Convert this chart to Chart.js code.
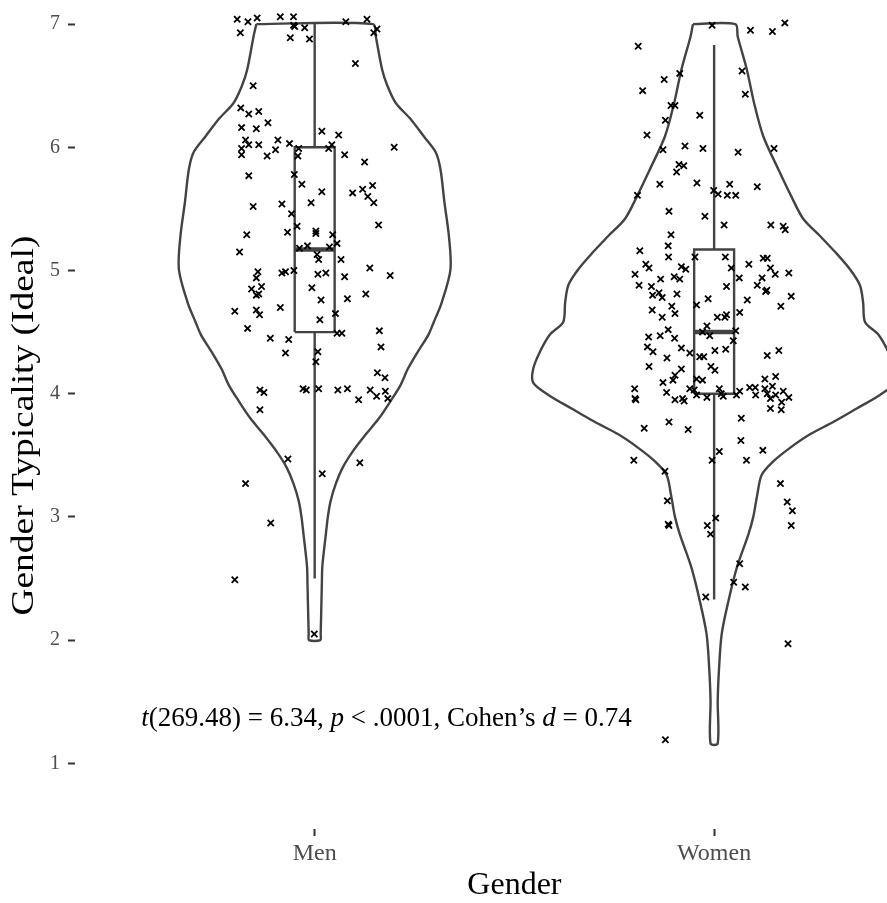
<!DOCTYPE html>
<html>
<head>
<meta charset="utf-8">
<title>Gender Typicality (Ideal)</title>
<script src="https://cdn.jsdelivr.net/npm/chart.js@4.4.1/dist/chart.umd.min.js"></script>
<style>
  html, body { margin: 0; padding: 0; background: #fff; overflow: hidden; }
  #wrap { width: 887px; height: 903px; overflow: hidden; }
</style>
</head>
<body>
<div id="wrap"><canvas id="violin-chart" width="960" height="903"></canvas></div>
<script>
const categories = ['Men', 'Women'];
const yTicks = [1, 2, 3, 4, 5, 6, 7];
const yTitle = 'Gender Typicality (Ideal)';
const xTitle = 'Gender';

// violin outline: score levels (top -> bottom) and half width in category units
const menLevels = [7.00, 6.90, 6.63, 6.50, 6.36, 6.23, 6.09, 5.96, 5.82, 5.55, 5.28, 5.01, 4.74, 4.58, 4.48, 4.34, 4.20,
  4.07, 3.94, 3.80, 3.67, 3.53, 3.40, 3.27, 3.13, 3.00, 2.86, 2.72, 2.59, 2.46, 2.32, 2.05, 2.00];
const menHalfWidth = [0.146, 0.153, 0.169, 0.182, 0.203, 0.240, 0.273, 0.303, 0.315, 0.325, 0.336, 0.340, 0.318, 0.298, 0.285, 0.258, 0.233,
  0.215, 0.190, 0.161, 0.128, 0.095, 0.070, 0.053, 0.040, 0.033, 0.028, 0.023, 0.019, 0.018, 0.017, 0.015, 0.014];
const womenLevels = [7.00, 6.90, 6.63, 6.36, 6.09, 5.82, 5.61, 5.42, 5.28, 5.15, 5.01, 4.88, 4.74, 4.58, 4.48, 4.34, 4.20,
  4.09, 3.99, 3.88, 3.77, 3.67, 3.56, 3.45, 3.34, 3.18, 3.00, 2.86, 2.59, 2.32, 2.05, 1.78, 1.51, 1.16];
const womenHalfWidth = [0.053, 0.059, 0.082, 0.100, 0.123, 0.161, 0.192, 0.223, 0.265, 0.303, 0.340, 0.365, 0.373, 0.378, 0.411, 0.436, 0.453,
  0.453, 0.415, 0.357, 0.298, 0.240, 0.190, 0.148, 0.119, 0.108, 0.098, 0.086, 0.057, 0.036, 0.019, 0.0125, 0.009, 0.009];

// box plot: lower whisker, Q1, median, Q3, upper whisker
const menBox = [2.5, 4.5, 5.17, 6.0, 7.0];
const womenBox = [2.33, 4.0, 4.5, 5.17, 6.83];

// individual responses (horizontal jitter in category units, score)
const menJitter = [-0.194, -0.167, -0.144, -0.086, -0.053, -0.053, -0.050, -0.025, -0.186, -0.061,
  -0.013, 0.078, 0.131, 0.156, 0.148, 0.102, -0.154, -0.185, -0.165, -0.140,
  -0.117, -0.183, -0.146, 0.018, 0.060, -0.173, -0.165, -0.140, -0.092, -0.063,
  -0.183, -0.183, -0.098, -0.119, -0.040, 0.043, 0.035, -0.042, 0.075, 0.125,
  0.199, -0.165, -0.051, -0.032, 0.018, 0.095, 0.120, 0.145, 0.133, 0.148,
  -0.154, -0.082, -0.009, -0.058, -0.044, -0.068, 0.003, 0.003, 0.045, -0.170,
  0.160, -0.188, -0.038, -0.018, 0.037, 0.056, 0.006, 0.010, 0.066, -0.142,
  -0.146, -0.082, -0.073, -0.052, 0.008, 0.028, 0.075, 0.138, 0.189, -0.158,
  -0.133, -0.146, -0.140, -0.007, 0.016, 0.082, 0.128, -0.200, -0.146, -0.138,
  -0.086, 0.052, 0.013, -0.168, -0.111, -0.065, 0.056, 0.068, 0.162, -0.073,
  0.008, 0.003, 0.166, 0.157, 0.176, -0.137, -0.127, -0.029, -0.021, 0.010,
  0.058, 0.082, 0.139, 0.155, 0.177, 0.110, 0.183, -0.137, -0.067, -0.173,
  0.019, 0.113, -0.110, -0.200, -0.001];
const menScores = [7.04, 7.02, 7.05, 7.06, 7.06, 6.99, 6.98, 6.97, 6.93, 6.89,
  6.88, 7.02, 7.04, 6.96, 6.93, 6.68, 6.50, 6.32, 6.27, 6.29,
  6.20, 6.16, 6.15, 6.13, 6.10, 6.06, 6.02, 6.02, 6.06, 6.03,
  5.99, 5.94, 5.98, 5.93, 5.99, 6.02, 5.99, 5.93, 5.94, 5.88,
  6.00, 5.77, 5.78, 5.70, 5.64, 5.63, 5.66, 5.69, 5.60, 5.55,
  5.52, 5.54, 5.55, 5.46, 5.36, 5.31, 5.32, 5.30, 5.29, 5.29,
  5.37, 5.15, 5.18, 5.20, 5.19, 5.22, 5.13, 5.09, 5.09, 4.99,
  4.94, 4.98, 4.99, 5.00, 4.97, 4.98, 4.95, 5.02, 4.96, 4.85,
  4.87, 4.80, 4.81, 4.86, 4.76, 4.77, 4.81, 4.67, 4.68, 4.64,
  4.70, 4.65, 4.60, 4.53, 4.45, 4.44, 4.49, 4.49, 4.51, 4.33,
  4.34, 4.26, 4.38, 4.17, 4.13, 4.03, 4.01, 4.04, 4.03, 4.04,
  4.03, 4.04, 4.03, 3.98, 4.02, 3.95, 3.96, 3.87, 3.47, 3.27,
  3.35, 3.44, 2.95, 2.49, 2.05];
const womenJitter = [-0.005, 0.091, 0.146, 0.177, -0.190, -0.086, -0.125, 0.070, -0.179, 0.078,
  -0.108, -0.098, -0.036, -0.122, -0.168, -0.128, -0.073, -0.028, 0.060, 0.150,
  -0.088, -0.076, -0.094, -0.136, -0.043, -0.001, 0.010, 0.033, 0.054, 0.039,
  0.108, -0.192, -0.113, -0.023, 0.025, 0.142, 0.173, 0.178, -0.108, -0.115,
  -0.186, -0.114, -0.048, 0.028, -0.171, -0.163, -0.082, -0.071, 0.043, 0.087,
  0.123, 0.133, 0.141, 0.187, 0.153, 0.120, -0.198, -0.134, -0.100, -0.086,
  0.063, -0.188, -0.157, -0.138, -0.154, -0.130, -0.093, 0.031, 0.108, 0.129,
  0.132, 0.193, -0.015, 0.083, -0.106, -0.044, 0.167, -0.155, -0.098, -0.130,
  0.008, 0.027, 0.031, 0.064, -0.115, -0.018, -0.029, -0.011, 0.054, -0.164,
  -0.135, -0.099, 0.048, -0.167, -0.153, -0.082, -0.061, 0.002, 0.029, 0.162,
  0.133, -0.118, -0.036, -0.026, -0.163, -0.082, -0.008, 0.002, -0.098, -0.103,
  -0.128, -0.044, -0.029, 0.127, 0.154, -0.199, -0.119, -0.061, -0.050, -0.044,
  0.013, 0.018, 0.023, 0.064, 0.089, 0.103, 0.127, 0.133, 0.146, 0.173,
  0.104, 0.154, 0.187, -0.198, -0.196, -0.098, -0.079, -0.075, -0.018, 0.056,
  0.141, 0.169, 0.141, 0.168, 0.068, -0.113, -0.175, -0.065, 0.067, 0.013,
  -0.005, 0.081, 0.122, -0.201, -0.123, 0.166, -0.117, 0.183, 0.196, 0.193,
  -0.115, -0.113, -0.017, -0.009, 0.004, 0.064, 0.049, 0.078, -0.021, 0.185,
  -0.122];
const womenScores = [6.99, 6.95, 6.94, 7.01, 6.82, 6.60, 6.55, 6.62, 6.46, 6.43,
  6.34, 6.34, 6.26, 6.22, 6.10, 5.98, 6.01, 5.99, 5.96, 5.99,
  5.86, 5.85, 5.80, 5.70, 5.71, 5.65, 5.62, 5.61, 5.61, 5.70,
  5.68, 5.61, 5.48, 5.44, 5.37, 5.37, 5.36, 5.33, 5.29, 5.20,
  5.16, 5.11, 5.11, 5.11, 5.05, 5.02, 5.03, 5.01, 5.02, 5.05,
  5.10, 5.10, 5.02, 4.98, 4.97, 4.94, 4.97, 4.93, 4.95, 4.93,
  4.94, 4.88, 4.87, 4.82, 4.80, 4.78, 4.81, 4.87, 4.88, 4.83,
  4.84, 4.79, 4.77, 4.76, 4.71, 4.72, 4.71, 4.68, 4.65, 4.62,
  4.62, 4.62, 4.64, 4.66, 4.52, 4.55, 4.50, 4.47, 4.51, 4.46,
  4.47, 4.45, 4.43, 4.38, 4.34, 4.37, 4.33, 4.35, 4.36, 4.35,
  4.31, 4.29, 4.30, 4.30, 4.22, 4.20, 4.22, 4.19, 4.15, 4.11,
  4.09, 4.12, 4.11, 4.12, 4.14, 4.04, 4.01, 4.04, 4.03, 3.99,
  4.04, 4.00, 3.98, 4.02, 4.05, 4.05, 4.04, 4.00, 4.06, 4.02,
  3.99, 3.99, 3.97, 3.96, 3.95, 3.95, 3.96, 3.94, 3.97, 3.99,
  3.96, 3.93, 3.88, 3.87, 3.80, 3.77, 3.72, 3.71, 3.62, 3.53,
  3.46, 3.46, 3.54, 3.46, 3.37, 3.27, 3.13, 3.12, 3.05, 2.93,
  2.94, 2.93, 2.93, 2.86, 2.99, 2.62, 2.47, 2.43, 2.35, 1.97,
  1.19];

// annotation text pieces: [text, italic]
const statParts = [['t', true], ['(269.48) = 6.34, ', false], ['p', true], [' < .0001, Cohen\u2019s ', false], ['d', true], [' = 0.74', false]];
const statAt = { x: 1.18, y: 1.36 };

const lineColor = '#434343';
const boxHalf = 0.05;
const serif = "'Liberation Serif', 'Times New Roman', serif";

function violinPath(center, levels, half)
{
  let pts = [];
  for (let i = 0; i < levels.length; i++) pts.push({ x: center - half[i], y: levels[i] });
  for (let i = levels.length - 1; i >= 0; i--) pts.push({ x: center + half[i], y: levels[i] });
  pts.push(pts[0]);
  return pts;
}

function lineSet(data, width, tension, order)
{
  return {
    type: 'line', data: data, showLine: true, fill: false,
    borderColor: lineColor, borderWidth: width, tension: tension,
    pointRadius: 0, order: order,
  };
}

function boxSets(center, b)
{
  const [lo, q1, med, q3, hi] = b;
  return [
    lineSet([{ x: center - boxHalf, y: q1 }, { x: center + boxHalf, y: q1 }, { x: center + boxHalf, y: q3 },
      { x: center - boxHalf, y: q3 }, { x: center - boxHalf, y: q1 }], 2.4, 0, 1),
    lineSet([{ x: center, y: q3 }, { x: center, y: hi }], 2.4, 0, 1),
    lineSet([{ x: center, y: lo }, { x: center, y: q1 }], 2.4, 0, 1),
    lineSet([{ x: center - boxHalf, y: med }, { x: center + boxHalf, y: med }], 4.5, 0, 1),
  ];
}

function pointSet(center, jitter, scores)
{
  return {
    type: 'scatter',
    data: scores.map((v, i) => ({ x: center + jitter[i], y: v })),
    pointStyle: 'crossRot', pointRadius: 4.4, borderWidth: 1.8,
    borderColor: '#000', backgroundColor: '#000', order: 0,
  };
}

const textPlugin = {
  id: 'extraText',
  afterDraw(chart)
  {
    const ctx = chart.ctx;
    const fs = 27;
    ctx.save();
    ctx.fillStyle = '#000';
    ctx.textBaseline = 'middle';
    ctx.textAlign = 'left';
    let total = 0;
    statParts.forEach(p => {
      ctx.font = (p[1] ? 'italic ' : '') + fs + 'px ' + serif;
      total += ctx.measureText(p[0]).width;
    });
    let x = chart.scales.x.getPixelForValue(statAt.x) - total / 2;
    const y = chart.scales.y.getPixelForValue(statAt.y);
    statParts.forEach(p => {
      ctx.font = (p[1] ? 'italic ' : '') + fs + 'px ' + serif;
      ctx.fillText(p[0], x, y);
      x += ctx.measureText(p[0]).width;
    });

    // y axis title, drawn a bit stretched along its length like the source
    const area = chart.chartArea;
    ctx.translate(25, (area.top + area.bottom) / 2 + 8);
    ctx.rotate(-Math.PI / 2);
    ctx.scale(1.17, 1);
    ctx.font = '32px ' + serif;
    ctx.textAlign = 'center';
    ctx.fillText(yTitle, 0, 0);
    ctx.restore();
  }
};

let ctx = document.getElementById('violin-chart').getContext('2d');
let violinChart = new Chart(ctx,
{
  type: 'scatter',
  data:
  {
    datasets: [
      pointSet(1, menJitter, menScores),
      pointSet(2, womenJitter, womenScores),
      ...boxSets(1, menBox),
      ...boxSets(2, womenBox),
      lineSet(violinPath(1, menLevels, menHalfWidth), 2.4, 0.3, 2),
      lineSet(violinPath(2, womenLevels, womenHalfWidth), 2.4, 0.3, 2),
    ],
  },
  options:
  {
    responsive: false,
    animation: false,
    devicePixelRatio: 1,
    layout: { padding: { top: 0, right: 4, bottom: 0, left: 0 } },
    plugins: { legend: { display: false }, tooltip: { enabled: false } },
    scales:
    {
      x:
      {
        type: 'linear', min: 0.4, max: 2.6,
        afterBuildTicks: (scale) => { scale.ticks = categories.map((c, i) => ({ value: i + 1 })); },
        afterFit: (scale) => { scale.height = 74; scale.paddingLeft = 0; scale.paddingRight = 0; },
        ticks: {
          callback: (v) => categories[v - 1],
          color: '#4d4d4d', font: { family: serif, size: 24 }, padding: 3, maxRotation: 0,
        },
        grid: { drawOnChartArea: false, drawTicks: true, tickLength: 7, tickColor: '#333', tickWidth: 2 },
        border: { display: false },
        title: { display: true, text: xTitle, color: '#000', font: { family: serif, size: 32, lineHeight: 1 }, padding: { top: 0, bottom: 1 } },
      },
      y:
      {
        type: 'linear', min: 0.4663, max: 7.1455,
        afterBuildTicks: (scale) => { scale.ticks = yTicks.map(v => ({ value: v })); },
        afterFit: (scale) => { scale.width = 75; scale.paddingTop = 0; scale.paddingBottom = 0; },
        ticks: { color: '#4d4d4d', font: { family: serif, size: 20 }, padding: 8 },
        grid: { drawOnChartArea: false, drawTicks: true, tickLength: 7, tickColor: '#333', tickWidth: 2 },
        border: { display: false },
        title: { display: false },
      },
    },
  },
  plugins: [textPlugin],
});
</script>
</body>
</html>
